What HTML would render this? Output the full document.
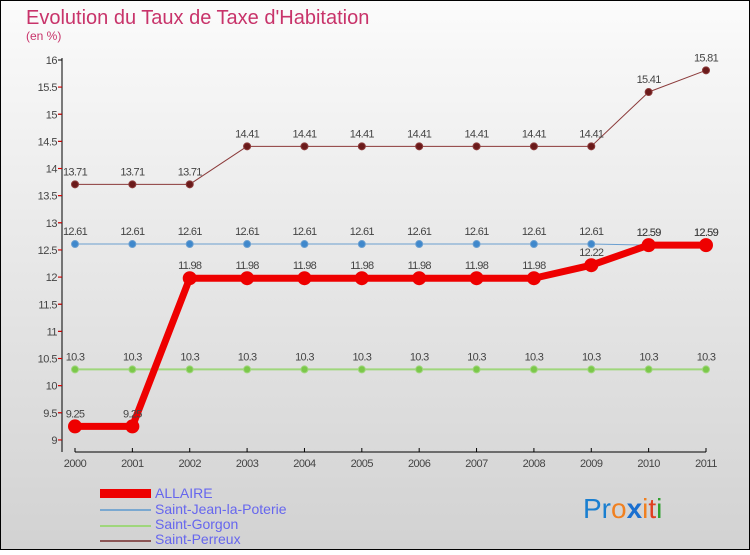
<!DOCTYPE html>
<html><head><meta charset="utf-8"><style>
body{margin:0}
#c{width:750px;height:550px;position:relative;font-family:"Liberation Sans",sans-serif}
</style></head><body>
<div id="c">
<svg id="s" width="750" height="550" xmlns="http://www.w3.org/2000/svg">
<defs><linearGradient id="bg" x1="0" y1="0" x2="0" y2="1"><stop offset="0" stop-color="#fbfbfb"/><stop offset="1" stop-color="#d2d2d2"/></linearGradient></defs>
<rect x="0.5" y="0.5" width="749" height="549" fill="url(#bg)" stroke="#000"/>
<text x="26" y="24" font-size="20" fill="#c8336a">Evolution du Taux de Taxe d'Habitation</text>
<text x="26" y="40" font-size="12" fill="#c8336a">(en %)</text>
<g id="axes"></g><g id="series"></g>
<g>
<rect x="100" y="489" width="51" height="9" fill="#e00"/>
<text x="155" y="498" font-size="14" fill="#6666ee">ALLAIRE</text>
<line x1="100" x2="151" y1="510" y2="510" stroke="#7aa8d0" stroke-width="2"/>
<text x="155" y="514" font-size="14" fill="#6666ee">Saint-Jean-la-Poterie</text>
<line x1="100" x2="151" y1="526" y2="526" stroke="#9fd67c" stroke-width="2"/>
<text x="155" y="529" font-size="14" fill="#6666ee">Saint-Gorgon</text>
<line x1="100" x2="151" y1="541" y2="541" stroke="#8b5555" stroke-width="2"/>
<text x="155" y="544" font-size="14" fill="#6666ee">Saint-Perreux</text>
</g>
<g font-size="28" font-family="Liberation Sans,sans-serif">
<text x="583" y="518"><tspan fill="#1a7fd0">Pr</tspan><tspan fill="#f08020">o</tspan><tspan fill="#1a6fd0" font-weight="bold">x</tspan><tspan fill="#f08020">i</tspan><tspan fill="#e04020">t</tspan><tspan fill="#30a030">i</tspan></text>
</g>
</svg>
</div>
<script>
const years=["2000","2001","2002","2003","2004","2005","2006","2007","2008","2009","2010","2011"];
const yTicks=[9,9.5,10,10.5,11,11.5,12,12.5,13,13.5,14,14.5,15,15.5,16];
const allaire=[9.25,9.25,11.98,11.98,11.98,11.98,11.98,11.98,11.98,12.22,12.59,12.59];
const saintJean=[12.61,12.61,12.61,12.61,12.61,12.61,12.61,12.61,12.61,12.61,12.59,12.59];
const saintGorgon=[10.3,10.3,10.3,10.3,10.3,10.3,10.3,10.3,10.3,10.3,10.3,10.3];
const saintPerreux=[13.71,13.71,13.71,14.41,14.41,14.41,14.41,14.41,14.41,14.41,15.41,15.81];
const NS="http://www.w3.org/2000/svg";
function X(i){return 75+i*(706-75)/11;}
function Y(v){return 60+(16-v)*(440-60)/7;}
function mk(t,a,p){const e=document.createElementNS(NS,t);for(const k in a)e.setAttribute(k,a[k]);p.appendChild(e);return e;}
const ax=document.getElementById('axes');
const ya=mk('line',{x1:62,x2:62,y1:58,y2:452,stroke:'#000'},ax);


const xa=mk('line',{x1:75,x2:706,y1:452,y2:452,stroke:'#000'},ax);


yTicks.forEach(v=>{
 const y=Y(v);
 mk('line',{x1:58,x2:62,y1:y,y2:y,stroke:'#000'},ax);
 mk('line',{x1:58,x2:62,y1:y+27,y2:y+27,stroke:v>9?'#e00':'none'},ax);
 const t=mk('text',{x:57,y:y+4,'text-anchor':'end','font-size':11,fill:'#444','letter-spacing':'-0.5'},ax);
 t.textContent=String(v);
 
 
});
years.forEach((yr,i)=>{
 const x=X(i);
 mk('line',{x1:x,x2:x,y1:448,y2:452,stroke:'#000'},ax);
 const t=mk('text',{x:x,y:467,'text-anchor':'middle','font-size':11,fill:'#444','letter-spacing':'-0.5'},ax);
 t.textContent=yr;
 
 
});
const sg=document.getElementById('series');
function series(name,vals,color,w,r,fill,labelColor){
 const g=mk('g',{},sg);
 
 
 mk('polyline',{points:vals.map((v,i)=>X(i)+','+Y(v)).join(' '),fill:'none',stroke:color,'stroke-width':w,'stroke-linejoin':'round'},g);
 vals.forEach((v,i)=>{
  const c=mk('circle',{cx:X(i),cy:Y(v),r:r,fill:fill,stroke:color,'stroke-width':w>3?2:1},g);
  
  
  const t=mk('text',{x:X(i),y:Y(v)-9,'text-anchor':'middle','font-size':11,fill:'#444','letter-spacing':'-0.7'},g);
  t.textContent=String(v);
  
  
 });
}
series('saint-gorgon',saintGorgon,'#9fd67c',2,3.5,'#7bc84a');
series('saint-jean',saintJean,'#6a9fd0',1,3.5,'#3f88cc');
series('saint-perreux',saintPerreux,'#8b3a3a',1,3.5,'#6a1a1a');
series('allaire',allaire,'#ee0000',7,6,'#ee0000');
</script>
</body></html>
